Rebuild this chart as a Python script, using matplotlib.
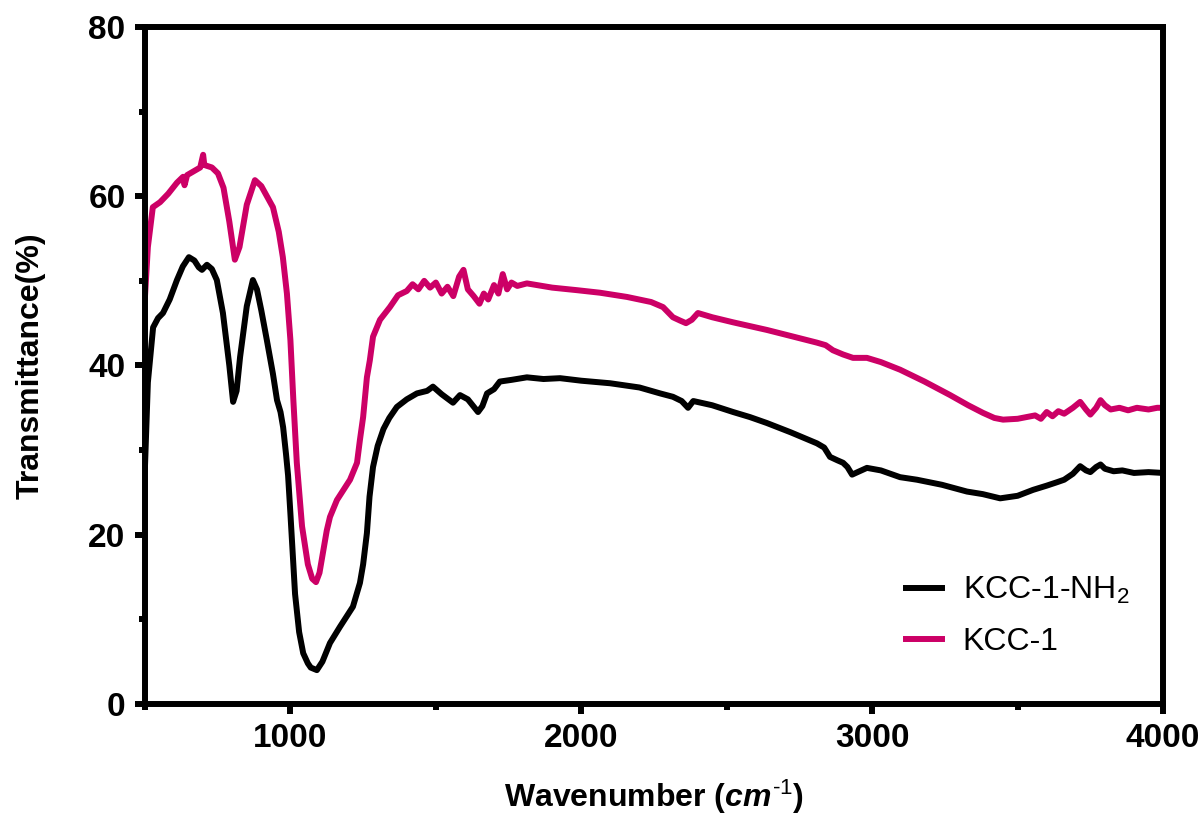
import numpy as np
import matplotlib
matplotlib.use("Agg")
import matplotlib.pyplot as plt

# FTIR spectra (10 values per row)
wn_nh2 = [500, 510, 528, 545, 562, 585, 610, 630, 651, 670,
          685, 696, 713, 730, 747, 768, 790, 803, 815, 827,
          850, 871, 885, 900, 919, 940, 954, 966, 975, 985,
          992, 1000, 1016, 1030, 1044, 1060, 1070, 1091, 1110, 1136,
          1170, 1215, 1239, 1250, 1263, 1272, 1284, 1300, 1320, 1340,
          1366, 1400, 1435, 1470, 1490, 1520, 1559, 1583, 1610, 1645,
          1660, 1676, 1700, 1720, 1760, 1813, 1870, 1927, 2000, 2099,
          2200, 2271, 2315, 2345, 2367, 2385, 2398, 2450, 2522, 2580,
          2638, 2720, 2810, 2835, 2855, 2880, 2900, 2915, 2931, 2950,
          2982, 3030, 3096, 3154, 3240, 3326, 3380, 3440, 3500, 3553,
          3600, 3635, 3660, 3690, 3715, 3735, 3750, 3770, 3785, 3800,
          3830, 3860, 3900, 3950, 4000]
t_nh2 = [28.0, 38.0, 44.5, 45.6, 46.2, 47.8, 50.1, 51.7, 52.8, 52.4,
         51.6, 51.3, 51.9, 51.4, 50.1, 46.2, 40.0, 35.7, 37.0, 41.0,
         47.0, 50.1, 49.0, 46.5, 43.0, 39.0, 35.9, 34.5, 32.7, 29.5,
         27.0, 22.5, 13.0, 8.5, 6.0, 4.8, 4.3, 4.0, 5.0, 7.2,
         9.1, 11.5, 14.3, 16.5, 20.2, 24.5, 28.0, 30.5, 32.5, 33.8,
         35.1, 36.0, 36.7, 37.0, 37.5, 36.6, 35.6, 36.5, 36.0, 34.5,
         35.2, 36.7, 37.2, 38.1, 38.3, 38.6, 38.4, 38.5, 38.2, 37.9,
         37.4, 36.7, 36.3, 35.8, 35.0, 35.8, 35.7, 35.3, 34.5, 33.9,
         33.2, 32.1, 30.8, 30.3, 29.2, 28.8, 28.5, 28.0, 27.1, 27.4,
         27.9, 27.6, 26.8, 26.5, 25.9, 25.1, 24.8, 24.3, 24.6, 25.3,
         25.8, 26.2, 26.5, 27.2, 28.1, 27.6, 27.4, 28.0, 28.3, 27.8,
         27.5, 27.6, 27.3, 27.4, 27.3]

wn_kcc = [500, 510, 527, 552, 580, 610, 631, 636, 645, 670,
          690, 700, 704, 712, 730, 751, 770, 790, 809, 825,
          850, 878, 900, 940, 960, 974, 988, 1000, 1010, 1022,
          1040, 1060, 1075, 1088, 1100, 1110, 1125, 1136, 1160, 1205,
          1229, 1239, 1250, 1263, 1273, 1284, 1308, 1342, 1370, 1400,
          1420, 1440, 1460, 1480, 1500, 1520, 1540, 1560, 1580, 1595,
          1610, 1630, 1650, 1665, 1680, 1700, 1715, 1730, 1745, 1760,
          1780, 1813, 1900, 1985, 2064, 2157, 2240, 2281, 2315, 2340,
          2360, 2380, 2401, 2450, 2522, 2638, 2730, 2810, 2840, 2865,
          2900, 2934, 2982, 3030, 3096, 3180, 3268, 3330, 3381, 3420,
          3450, 3500, 3560, 3580, 3600, 3620, 3640, 3660, 3690, 3715,
          3735, 3750, 3770, 3785, 3800, 3820, 3850, 3880, 3910, 3950,
          3980, 4000]
t_kcc = [48.1, 54.0, 58.7, 59.3, 60.3, 61.6, 62.3, 61.3, 62.5, 63.0,
         63.4, 64.9, 63.7, 63.6, 63.4, 62.7, 61.0, 57.0, 52.5, 54.0,
         59.0, 61.9, 61.2, 58.7, 55.8, 52.8, 48.5, 43.0, 36.0, 28.5,
         21.0, 16.5, 14.8, 14.4, 15.5, 17.5, 20.5, 22.1, 24.1, 26.5,
         28.5, 31.2, 33.9, 38.6, 40.6, 43.4, 45.4, 46.9, 48.3, 48.8,
         49.6, 49.0, 50.0, 49.2, 49.8, 48.5, 49.3, 48.2, 50.5, 51.3,
         49.0, 48.2, 47.3, 48.5, 47.8, 49.5, 48.5, 50.8, 49.0, 49.8,
         49.4, 49.7, 49.2, 48.9, 48.6, 48.1, 47.5, 46.9, 45.7, 45.3,
         45.0, 45.4, 46.2, 45.7, 45.1, 44.2, 43.4, 42.7, 42.4, 41.8,
         41.3, 40.9, 40.9, 40.4, 39.5, 38.1, 36.5, 35.3, 34.4, 33.8,
         33.6, 33.7, 34.1, 33.7, 34.5, 34.0, 34.6, 34.3, 35.0, 35.7,
         34.8, 34.2, 35.0, 35.9, 35.3, 34.8, 35.0, 34.7, 35.0, 34.8,
         35.0, 35.0]

plt.rcParams["font.family"] = ["Liberation Sans", "DejaVu Sans"]
plt.rcParams["mathtext.fontset"] = "custom"
plt.rcParams["mathtext.rm"] = "Liberation Sans"
plt.rcParams["mathtext.it"] = "Liberation Sans:italic:bold"
plt.rcParams["mathtext.bf"] = "Liberation Sans:bold"

fig = plt.figure(figsize=(12.03, 8.18), dpi=100)
ax = fig.add_axes([0.1205, 0.1394, 0.8463, 0.8276])

ax.plot(wn_nh2, t_nh2, color="black", lw=4.3, label=r"KCC-1-NH$_\mathregular{2}$",
        solid_joinstyle="round")
ax.plot(wn_kcc, t_kcc, color="#CC0066", lw=4.3, label="KCC-1", solid_joinstyle="round")

ax.set_xlim(500, 4000)
ax.set_ylim(0, 80)
ax.set_xticks([1000, 2000, 3000, 4000])
ax.set_xticks([500, 1500, 2500, 3500], minor=True)
ax.set_yticks([0, 20, 40, 60, 80])
ax.set_yticks([10, 30, 50, 70], minor=True)

for s in ax.spines.values():
    s.set_linewidth(4.3)
ax.tick_params(which="major", direction="out", length=7, width=4.3, labelsize=24, pad=7)
ax.tick_params(which="minor", direction="out", length=4, width=4.3)
for lab in ax.get_xticklabels() + ax.get_yticklabels():
    lab.set_fontweight("bold")

ax.set_xlabel("Wavenumber ($\\mathit{cm}^{\\mathit{\u20101}}$)", fontsize=23,
              fontweight="bold", labelpad=17)
ax.set_ylabel("Transmittance(%)", fontsize=23, fontweight="bold", labelpad=31)

ax.legend(loc="center left", bbox_to_anchor=(0.748, 0.13), frameon=False, fontsize=23,
          handlelength=1.1, handletextpad=0.66, labelspacing=0.65, borderpad=0,
          borderaxespad=0)

fig.savefig("out.png", dpi=100)
